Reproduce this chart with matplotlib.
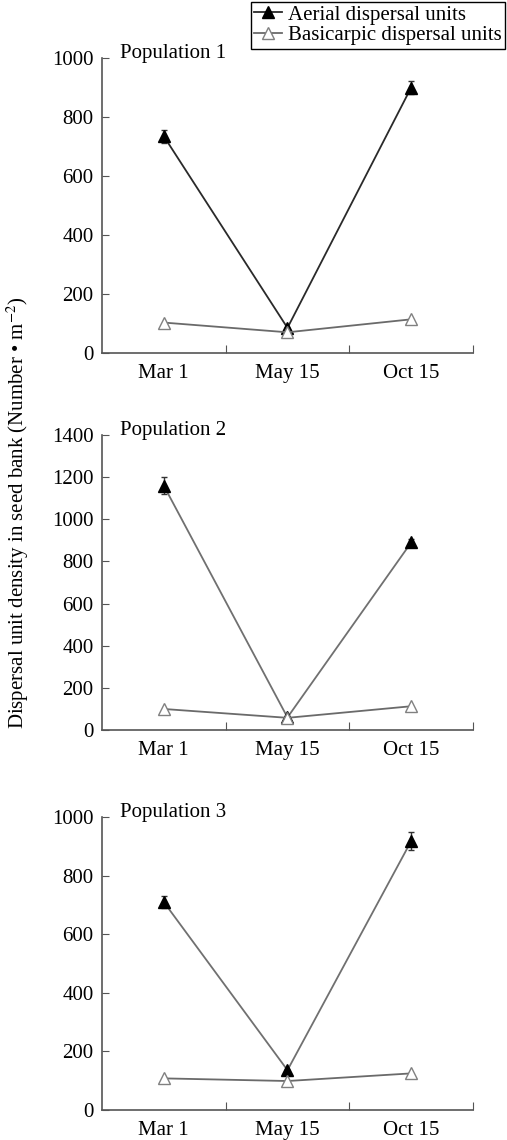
import matplotlib.pyplot as plt
import numpy as np

plt.rcParams.update({
    'font.family': ['Liberation Serif', 'DejaVu Serif'],
    'font.size': 15,
    'mathtext.fontset': 'stix',
})

dates = ['Mar 1', 'May 15', 'Oct 15']
populations = ['Population 1', 'Population 2', 'Population 3']

# values (Number per m^2)
aerial = [[735, 85, 900], [1160, 60, 890], [710, 136, 918]]
aerial_err = [[22, 0, 22], [40, 0, 15], [22, 0, 30]]
basicarpic = [[103, 70, 114], [100, 58, 113], [108, 99, 125]]
basicarpic_err = [[8, 6, 10], [8, 6, 10], [8, 6, 10]]
y_max = [1000, 1400, 1000]
y_step = [200, 200, 200]

aerial_colors = ['#2a2a2a', '#707070', '#707070']

fig = plt.figure(figsize=(5.07, 11.4), dpi=100)
panel_boxes = [(0.6904, 0.9491), (0.3596, 0.6184), (0.0263, 0.2833)]

x = np.arange(len(dates)) + 0.5
handles = None
for i, (bottom, top) in enumerate(panel_boxes):
    ax = fig.add_axes([0.201, bottom, 0.732, top - bottom])
    h1 = ax.errorbar(x, aerial[i], yerr=aerial_err[i], color=aerial_colors[i], lw=1.3,
                     marker='^', ms=9, mfc='black', mec='black', ecolor='#333333',
                     elinewidth=1, capsize=2)
    h2 = ax.errorbar(x, basicarpic[i], yerr=basicarpic_err[i], color='#6a6a6a', lw=1.3,
                     marker='^', ms=9, mfc='white', mec='#808080', ecolor='#999999',
                     elinewidth=0.8, capsize=0, zorder=3)
    if handles is None:
        handles = [h1[0], h2[0]]
    ax.set_xlim(0, 3)
    ax.set_ylim(0, y_max[i])
    ax.set_yticks(np.arange(0, y_max[i] + 1, y_step[i]))
    ax.set_xticks([1, 2, 3])
    ax.set_xticklabels([])
    ax.set_xticks(x, minor=True)
    ax.set_xticklabels(dates, minor=True)
    ax.tick_params(axis='x', which='minor', length=0, pad=8)
    ax.tick_params(axis='x', which='major', direction='in', length=6, color='#555555')
    ax.tick_params(axis='y', direction='in', length=5, color='#555555', pad=6)
    for side in ['top', 'right']:
        ax.spines[side].set_visible(False)
    for side in ['left', 'bottom']:
        ax.spines[side].set_color('#555555')
        ax.spines[side].set_linewidth(1.2)
    ax.text(0.05, 1.0, populations[i], transform=ax.transAxes, va='baseline', ha='left')

leg = fig.legend(handles, ['Aerial dispersal units', 'Basicarpic dispersal units'],
                 loc='upper right', bbox_to_anchor=(1.0, 1.0), fancybox=False,
                 edgecolor='black', framealpha=1, borderaxespad=0.1, handlelength=1.35,
                 handletextpad=0.3, borderpad=0.15, labelspacing=0.05)
leg.get_frame().set_linewidth(1.0)

fig.text(0.036, 0.55, 'Dispersal unit density in seed bank (Number \u2022 m$^{-2}$)',
         rotation=90, va='center', ha='center', fontsize=15)

fig.savefig('out.png', dpi=100)
